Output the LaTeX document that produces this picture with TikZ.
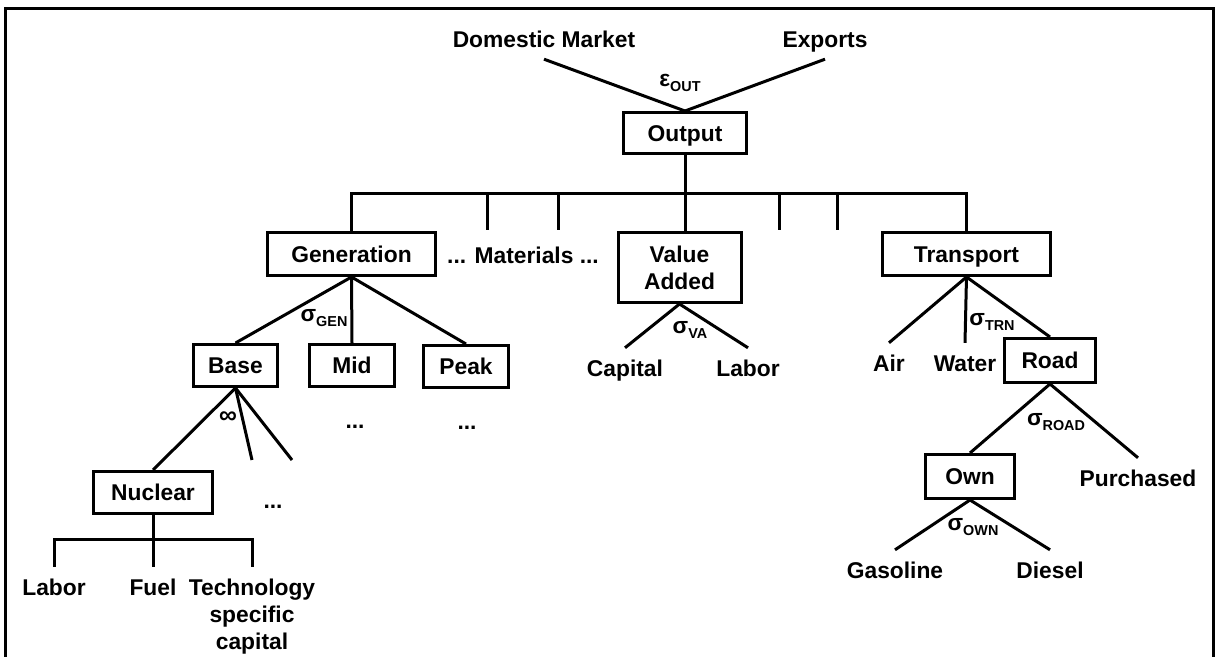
\documentclass[tikz,border=0pt]{standalone}
\usepackage{fontspec}
\setmainfont{Liberation Sans}
\usepackage{tikz}
\newcommand{\elas}[2]{#1\raisebox{-0.45ex}{\fontsize{7.2}{8}\selectfont #2}}

\begin{document}
\begin{tikzpicture}[x=0.5pt, y=-0.5pt, line width=1.5pt,
    every node/.style={inner sep=0pt, font=\bfseries\fontsize{11.4}{13.6}\selectfont},
    capline/.style={text height=8.2pt, text depth=0pt},
    box/.style={draw, minimum height=21pt},
    leaf/.style={capline, outer sep=6pt}]
    \useasboundingbox (0,0) rectangle (1216,657);
    \draw (5,670) -- (5,9) -- (1213,9) -- (1213,670);
    % top
    \node [leaf] (dom) at (544,39) {Domestic Market};
    \node [leaf] (exp) at (825,39) {Exports};
    \node [box, capline, minimum width=61.5pt, minimum height=20.5pt] (out) at (685,133) {Output};
    \node (eout) at (680,83) {\elas{ε}{OUT}};
    \foreach \x in {dom,exp} {\draw (\x.south) -- (out.north);}
    % second level
    \node [box, capline, minimum width=84pt, minimum height=21.5pt] (gen) at (351.5,254) {Generation};
    \node [leaf] (mat) at (523,255) {... Materials ...};
    \node [box, align=center, minimum width=61.5pt, minimum height=35pt] (va) at (679.5,267.5) {Value\\Added};
    \node [box, capline, minimum width=84pt, minimum height=21.5pt] (trn) at (966.5,254) {Transport};
    \coordinate (bus) at (685,194);
    \draw (out.south) -- (bus);
    \draw (gen.north) |- (bus) -| (trn.north);
    \draw (bus) -- (bus |- va.north);
    \foreach \x [count=\i] in {487,558,779,837} {\coordinate (t\i) at (\x,230); \draw (t\i |- bus) -- (t\i);}
    % generation
    \node [box, capline, minimum width=42pt] (base) at (235.5,365.5) {Base};
    \node [box, capline, minimum width=42.5pt] (mid) at (352,365.5) {Mid};
    \node [box, capline, minimum width=42.5pt] (peak) at (466,366.5) {Peak};
    \node (sgen) at (324,318) {\elas{σ}{GEN}};
    \foreach \x in {base,mid,peak} {\draw (gen.south) -- (\x.north);}
    \node (dmid) at (355,427) {...};
    \node (dpeak) at (467,428) {...};
    % base
    \node [box, capline, minimum width=59.5pt] (nuc) at (153,492.5) {Nuclear};
    \node [font=\bfseries\fontsize{12.5}{12.5}\selectfont] (inf) at (228,418) {∞};
    \node (dnuc) at (273,507) {...};
    \coordinate (b1) at (252,460);
    \coordinate (b2) at (292,460);
    \foreach \x in {nuc.north,b1,b2} {\draw (base.south) -- (\x);}
    \node [leaf] (nlab) at (54,587) {Labor};
    \node [leaf] (fuel) at (153,587) {Fuel};
    \node [align=center, anchor=north, outer sep=6pt] (tech) at (252,567) {Technology\\specific\\capital};
    \coordinate (nbus) at (153,540);
    \draw (nuc.south) -- (nbus) -- (fuel.north);
    \draw (nlab.north) |- (nbus) -| (tech.north);
    % value added
    \node [leaf] (capl) at (625,368) {Capital};
    \node [leaf] (labr) at (748,368) {Labor};
    \node (sva) at (690,330) {\elas{σ}{VA}};
    \foreach \x in {capl,labr} {\draw (va.south) -- (\x.north);}
    % transport
    \node [leaf] (air) at (889,363) {Air};
    \node [leaf] (wat) at (965,363) {Water};
    \node [box, capline, minimum width=45.5pt, minimum height=22pt] (road) at (1050,360.5) {Road};
    \node (strn) at (992,322) {\elas{σ}{TRN}};
    \foreach \x in {air,wat,road} {\draw (trn.south) -- (\x.north);}
    % road
    \node [box, capline, minimum width=44.5pt, minimum height=22pt] (own) at (970,476.5) {Own};
    \node [leaf] (pur) at (1138,478) {Purchased};
    \node (sroad) at (1056,422) {\elas{σ}{ROAD}};
    \foreach \x in {own,pur} {\draw (road.south) -- (\x.north);}
    % own
    \node [leaf] (gas) at (895,570) {Gasoline};
    \node [leaf] (die) at (1050,570) {Diesel};
    \node (sown) at (973,527) {\elas{σ}{OWN}};
    \foreach \x in {gas,die} {\draw (own.south) -- (\x.north);}
\end{tikzpicture}
\end{document}
